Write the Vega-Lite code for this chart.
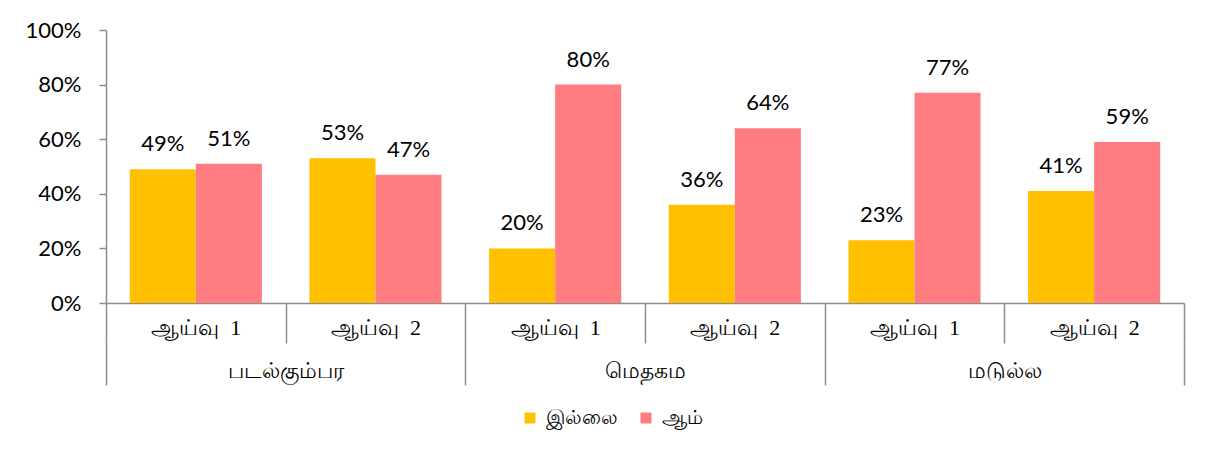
{
  "$schema": "https://vega.github.io/schema/vega-lite/v6.json",
  "width": 1078,
  "height": 273,
  "autosize": {"type": "none"},
  "padding": {"left": 106, "top": 30, "right": 32, "bottom": 156},
  "background": "white",
  "config": {
    "view": {"stroke": null},
    "axis": {"domainColor": "#8c8c8c", "tickColor": "#8c8c8c", "domainWidth": 1.5, "tickWidth": 1.5, "labelColor": "black", "grid": false, "title": null}
  },
  "data": {
    "values": [
      {"region": "படல்கும்பர", "sub": "படல்கும்பர|ஆய்வு\u00a0 1", "series": "இல்லை", "value": 0.49},
      {"region": "படல்கும்பர", "sub": "படல்கும்பர|ஆய்வு\u00a0 1", "series": "ஆம்", "value": 0.51},
      {"region": "படல்கும்பர", "sub": "படல்கும்பர|ஆய்வு\u00a0 2", "series": "இல்லை", "value": 0.53},
      {"region": "படல்கும்பர", "sub": "படல்கும்பர|ஆய்வு\u00a0 2", "series": "ஆம்", "value": 0.47},
      {"region": "மெதகம", "sub": "மெதகம|ஆய்வு\u00a0 1", "series": "இல்லை", "value": 0.20},
      {"region": "மெதகம", "sub": "மெதகம|ஆய்வு\u00a0 1", "series": "ஆம்", "value": 0.80},
      {"region": "மெதகம", "sub": "மெதகம|ஆய்வு\u00a0 2", "series": "இல்லை", "value": 0.36},
      {"region": "மெதகம", "sub": "மெதகம|ஆய்வு\u00a0 2", "series": "ஆம்", "value": 0.64},
      {"region": "மடுல்ல", "sub": "மடுல்ல|ஆய்வு\u00a0 1", "series": "இல்லை", "value": 0.23},
      {"region": "மடுல்ல", "sub": "மடுல்ல|ஆய்வு\u00a0 1", "series": "ஆம்", "value": 0.77},
      {"region": "மடுல்ல", "sub": "மடுல்ல|ஆய்வு\u00a0 2", "series": "இல்லை", "value": 0.41},
      {"region": "மடுல்ல", "sub": "மடுல்ல|ஆய்வு\u00a0 2", "series": "ஆம்", "value": 0.59}
    ]
  },
  "layer": [
    {
      "encoding": {
        "x": {
          "field": "sub", "type": "nominal",
          "sort": ["படல்கும்பர|ஆய்வு\u00a0 1", "படல்கும்பர|ஆய்வு\u00a0 2", "மெதகம|ஆய்வு\u00a0 1", "மெதகம|ஆய்வு\u00a0 2", "மடுல்ல|ஆய்வு\u00a0 1", "மடுல்ல|ஆய்வு\u00a0 2"],
          "scale": {"paddingInner": 0, "paddingOuter": 0},
          "axis": {
            "orient": "bottom", "labelAngle": 0, "tickBand": "extent", "tickSize": 40,
            "labelExpr": "split(datum.value, '|')[1]",
            "labelBaseline": "middle", "labelPadding": -16,
            "labelFont": "Liberation Serif", "labelFontSize": 22
          }
        },
        "xOffset": {"field": "series", "type": "nominal", "sort": ["இல்லை", "ஆம்"], "scale": {"paddingInner": 0, "paddingOuter": 0.36}},
        "y": {
          "field": "value", "type": "quantitative",
          "scale": {"domain": [0, 1]},
          "axis": {"format": ".0%", "values": [0, 0.2, 0.4, 0.6, 0.8, 1], "tickSize": 7, "labelPadding": 18, "labelFont": "Lato", "labelFontSize": 22}
        }
      },
      "layer": [
        {
          "mark": {"type": "bar"},
          "encoding": {
            "color": {
              "field": "series", "type": "nominal", "sort": ["இல்லை", "ஆம்"],
              "scale": {"domain": ["இல்லை", "ஆம்"], "range": ["#FFC000", "#FF7C80"]},
              "legend": {
                "title": null, "orient": "none", "legendX": 414, "legendY": 378, "direction": "horizontal", "symbolType": "square", "symbolSize": 121,
                "symbolStrokeWidth": 0, "labelFont": "Liberation Serif", "labelFontSize": 20, "labelColor": "black",
                "labelOffset": 6, "columnPadding": 18
              }
            }
          }
        },
        {
          "mark": {"type": "text", "baseline": "alphabetic", "dy": -18, "font": "Lato", "fontSize": 22, "color": "black"},
          "encoding": {"text": {"field": "value", "type": "quantitative", "format": ".0%"}}
        }
      ]
    },
    {
      "mark": {"type": "bar", "opacity": 0},
      "encoding": {
        "x": {
          "field": "region", "type": "nominal",
          "sort": ["படல்கும்பர", "மெதகம", "மடுல்ல"],
          "scale": {"paddingInner": 0, "paddingOuter": 0},
          "axis": {
            "orient": "bottom", "offset": 40, "domain": false, "labelAngle": 0, "tickBand": "extent", "tickSize": 42,
            "labelBaseline": "middle", "labelPadding": -15,
            "labelFont": "Liberation Serif", "labelFontSize": 22
          }
        },
        "y": {"field": "value", "type": "quantitative"}
      }
    }
  ],
  "resolve": {"scale": {"x": "independent"}, "axis": {"x": "independent"}}
}
